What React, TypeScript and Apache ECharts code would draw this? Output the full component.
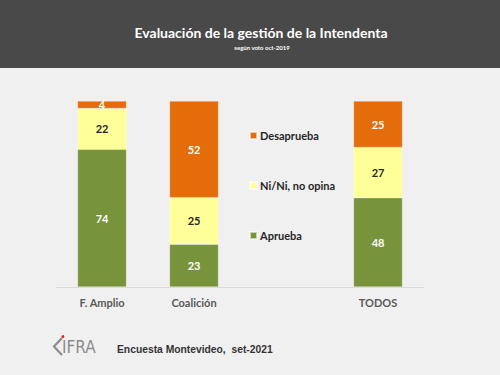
import React, { useEffect, useRef } from "react";
import * as echarts from "echarts";

const categories = ["F. Amplio", "Coalición", "", "TODOS"];
const aprueba = [74, 23, null, 48];
const nini = [22, 25, null, 27];
const desaprueba = [4, 52, null, 25];
const seriesNames = ["Aprueba", "Ni/Ni, no opina", "Desaprueba"];
const legendOrder = ["Desaprueba", "Ni/Ni, no opina", "Aprueba"];

const FONT = "Lato, 'Open Sans', sans-serif";

export default function App() {
  const ref = useRef<HTMLDivElement>(null);
  useEffect(() => {
    if (!ref.current) return;
    const chart = echarts.init(ref.current, null, { renderer: "svg" });
    const mk = (name: string, data: (number | null)[], color: string, labelColor: string) => ({
      name,
      type: "bar",
      stack: "total",
      data,
      barWidth: 49,
      itemStyle: { color, borderColor: "rgba(255,255,255,0.6)", borderWidth: 0.5 },
      label: {
        show: true,
        position: "inside",
        color: labelColor,
        fontFamily: FONT,
        fontWeight: "bold",
        fontSize: 11,
      },
    });
    chart.setOption({
      animation: false,
      backgroundColor: "#f0f0f0",
      grid: { left: 56, right: 76, top: 101, bottom: 88 },
      xAxis: {
        type: "category",
        data: categories,
        axisLine: { show: true, lineStyle: { color: "#d9d9d9", width: 1 } },
        axisTick: { show: false },
        axisLabel: {
          color: "#595959",
          fontFamily: FONT,
          fontWeight: "bold",
          fontSize: 11,
          margin: 10,
        },
      },
      yAxis: { type: "value", min: 0, max: 100, show: false, splitLine: { show: false } },
      legend: {
        data: legendOrder,
        orient: "vertical",
        left: 244,
        top: 125,
        padding: 5,
        itemWidth: 7,
        itemHeight: 7,
        itemGap: 39,
        icon: "rect",
        textStyle: { color: "#262626", fontFamily: FONT, fontWeight: "bold", fontSize: 11, padding: [0, 0, 0, -2] },
      },
      series: [
        mk(seriesNames[0], aprueba, "#77933c", "#ffffff"),
        mk(seriesNames[1], nini, "#ffff99", "#262626"),
        mk(seriesNames[2], desaprueba, "#e46c0a", "#ffffff"),
      ],
      graphic: [
        { type: "rect", left: 0, top: 0, shape: { width: 500, height: 68 }, style: { fill: "#494949" }, z: -1 },
        {
          type: "text",
          x: 261,
          y: 32,
          style: {
            text: "Evaluación de la gestión de la Intendenta",
            fill: "#ffffff",
            font: "bold 14px Lato, 'Open Sans', sans-serif",
            textAlign: "center",
            textVerticalAlign: "middle",
          },
        },
        {
          type: "text",
          x: 262,
          y: 47,
          style: {
            text: "según voto oct-2019",
            fill: "#ffffff",
            font: "bold 6px Lato, 'Open Sans', sans-serif",
            textAlign: "center",
            textVerticalAlign: "middle",
          },
        },
        {
          type: "polyline",
          shape: { points: [[62, 338], [54, 346.5], [62, 355]] },
          style: { stroke: "#8c8c8c", lineWidth: 2.2, fill: "none" },
        },
        { type: "circle", shape: { cx: 63, cy: 336.5, r: 1.4 }, style: { fill: "#e02020" } },
        {
          type: "text",
          x: 62,
          y: 347,
          style: {
            text: "IFRA",
            fill: "#8c8c8c",
            font: "17px 'Liberation Sans Narrow', 'DejaVu Sans Condensed', sans-serif",
            textVerticalAlign: "middle",
          },
        },
        {
          type: "text",
          x: 117,
          y: 349,
          style: {
            text: "Encuesta Montevideo,  set-2021",
            fill: "#333333",
            font: "bold 10.3px 'Liberation Sans', Arial, sans-serif",
            textVerticalAlign: "middle",
          },
        },
      ],
    });
    return () => chart.dispose();
  }, []);
  return (
    <div
      ref={ref}
      style={{ position: "fixed", left: 0, top: 0, width: 500, height: 375 }}
    />
  );
}
